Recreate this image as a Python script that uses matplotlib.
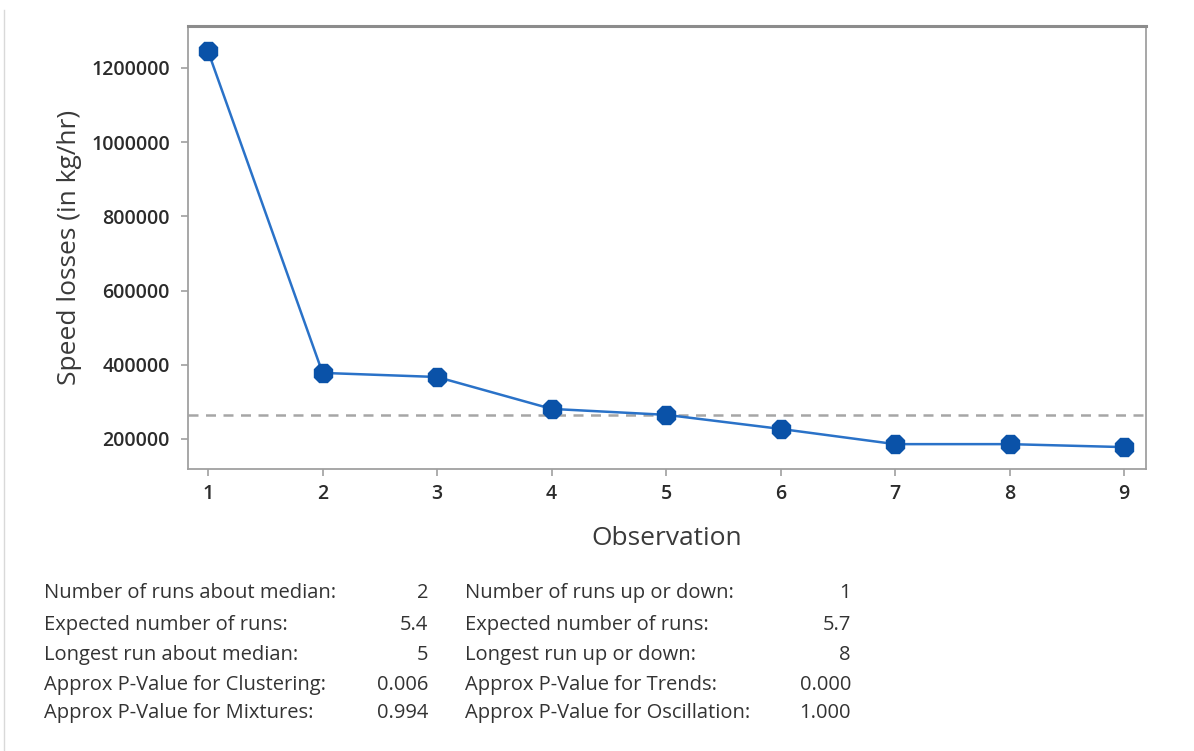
import matplotlib
matplotlib.use("Agg")
import matplotlib.pyplot as plt
from matplotlib.lines import Line2D

plt.rcParams['font.family'] = ['Open Sans', 'DejaVu Sans']

observations = [1, 2, 3, 4, 5, 6, 7, 8, 9]
speed_losses = [1245000, 378000, 367000, 281000, 265000, 227000, 186000, 186000, 178000]
median_value = 265000
yticks = [200000, 400000, 600000, 800000, 1000000, 1200000]

left_labels = ["Number of runs about median:", "Expected number of runs:",
               "Longest run about median:", "Approx P-Value for Clustering:",
               "Approx P-Value for Mixtures:"]
left_values = ["2", "5.4", "5", "0.006", "0.994"]
right_labels = ["Number of runs up or down:", "Expected number of runs:",
                "Longest run up or down:", "Approx P-Value for Trends:",
                "Approx P-Value for Oscillation:"]
right_values = ["1", "5.7", "8", "0.000", "1.000"]

W, H = 1194, 751
fig = plt.figure(figsize=(W / 100, H / 100), dpi=100)
ax = fig.add_axes([188 / W, 1 - 469 / H, (1146 - 188) / W, (469 - 26) / H])

ax.axhline(median_value, color='#a6a6a6', lw=1.8, ls=(0, (4, 3)), zorder=1)
ax.plot(observations, speed_losses, color='#2a72c8', lw=1.8, zorder=2)
ax.plot(observations, speed_losses, ls='none', marker='8', markersize=14.5,
        color='#0a52a8', markeredgecolor='#0a52a8', zorder=3)

ax.set_xlim(0.825, 9.19)
ax.set_ylim(119000, 1313000)
ax.set_xticks(observations)
ax.set_yticks(yticks)
ax.set_yticklabels([str(v) for v in yticks])

for s in ax.spines.values():
    s.set_color('#a0a0a0')
    s.set_linewidth(1.3)
ax.spines['top'].set_linewidth(2.2)
ax.spines['top'].set_color('#8c8c8c')
ax.tick_params(axis='both', direction='out', length=5, width=1.2, color='#a0a0a0',
               labelcolor='#2b2b2b', labelsize=14)
ax.tick_params(axis='x', pad=6)
ax.tick_params(axis='y', pad=8)
for lab in ax.get_xticklabels() + ax.get_yticklabels():
    lab.set_fontweight('semibold')

ax.set_ylabel("Speed losses (in kg/hr)", fontsize=19, color='#3a3a3a')
ax.set_xlabel("Observation", fontsize=19, color='#3a3a3a')
ax.yaxis.set_label_coords(-0.111, 0.5)
ax.xaxis.set_label_coords(0.5, -0.128)

# figure border line on the left
fig.add_artist(Line2D([4 / W, 4 / W], [0, 1 - 10 / H], transform=fig.transFigure,
                      color='#d9d9d9', lw=1))

row_y = [593, 625, 655, 685, 713]
for i in range(5):
    y = 1 - row_y[i] / H
    fig.text(44 / W, y, left_labels[i], fontsize=14.5, color='#333333', va='center', ha='left')
    fig.text(428 / W, y, left_values[i], fontsize=14.5, color='#333333', va='center', ha='right')
    fig.text(465 / W, y, right_labels[i], fontsize=14.5, color='#333333', va='center', ha='left')
    fig.text(851 / W, y, right_values[i], fontsize=14.5, color='#333333', va='center', ha='right')

fig.savefig("out.png", dpi=100, facecolor='white')
